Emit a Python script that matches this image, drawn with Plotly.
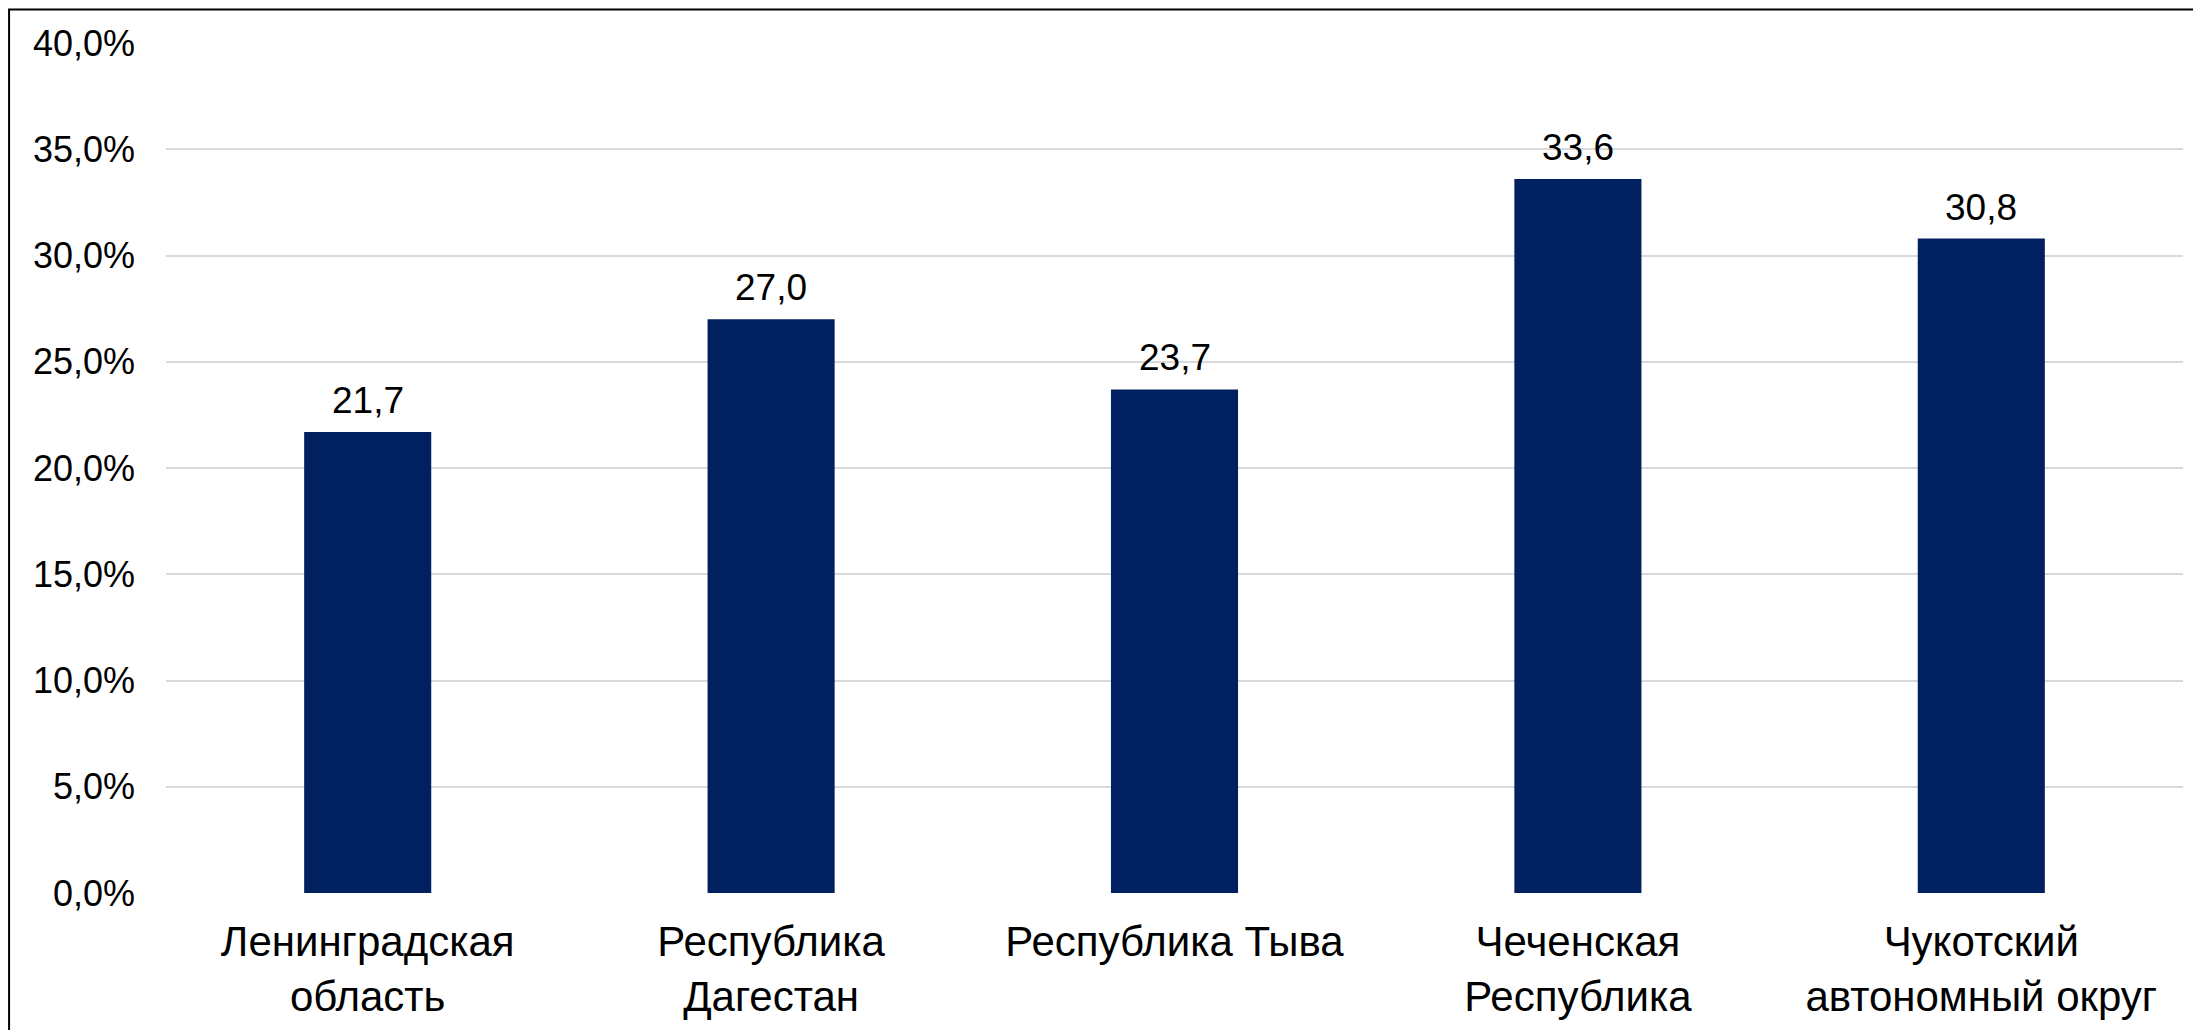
import plotly.graph_objects as go

categories = ["Ленинградская<br>область", "Республика<br>Дагестан", "Республика Тыва",
              "Чеченская<br>Республика", "Чукотский<br>автономный округ"]
values = [21.7, 27.0, 23.7, 33.6, 30.8]
value_labels = ["21,7", "27,0", "23,7", "33,6", "30,8"]
y_ticks = [0, 5, 10, 15, 20, 25, 30, 35, 40]
y_tick_labels = ["0,0%", "5,0%", "10,0%", "15,0%", "20,0%", "25,0%", "30,0%", "35,0%", "40,0%"]

FONT = "Liberation Sans, Arial, sans-serif"

fig = go.Figure()
fig.add_trace(go.Bar(x=categories, y=values, marker=dict(color="#002060", line=dict(width=0)),
                     hoverinfo="skip"))

for c, v, t in zip(categories, values, value_labels):
    fig.add_annotation(x=c, y=v, text=t, showarrow=False, yanchor="bottom", yshift=9,
                       font=dict(family=FONT, size=37, color="black"))

# outer frame (page body adds an 8px offset)
fig.add_shape(type="rect", xref="paper", yref="paper", x0=-0.0778, x1=1.03, y0=-0.2, y1=1.0395,
              line=dict(color="black", width=2), fillcolor="rgba(0,0,0,0)", layer="above")

fig.update_layout(
    width=2193, height=1022,
    margin=dict(l=158, r=18, t=35, b=137),
    paper_bgcolor="white", plot_bgcolor="white",
    showlegend=False,
    bargap=0.685,
    font=dict(family=FONT, size=36, color="black"),
)
fig.update_yaxes(range=[0, 40], tickvals=y_ticks, ticktext=y_tick_labels, automargin=False,
                 showgrid=True, gridcolor="#d9d9d9", gridwidth=2, zeroline=False,
                 showline=False, ticks="", ticklabelstandoff=30,
                 tickfont=dict(family=FONT, size=36, color="black"))
fig.update_xaxes(showgrid=False, showline=False, ticks="", ticklabelstandoff=20, automargin=False,
                 tickfont=dict(family=FONT, size=42, color="black"))

fig.write_html("out.html")
